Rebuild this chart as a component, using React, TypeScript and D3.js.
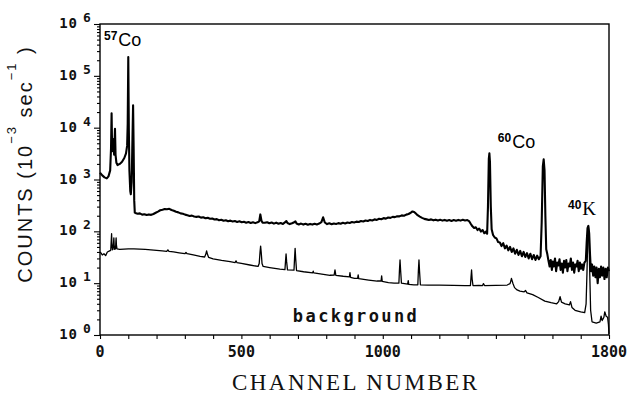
import React, { useEffect, useRef } from "react";
import * as d3 from "d3";

// [channel, counts (10^-3 sec^-1)]
const sourceSpectrum: [number, number][] = [
  [0, 1350], [8, 1200], [16, 1100], [24, 1050], [30, 1150], [36, 1500], [39, 4000], [41, 19000],
  [43, 3500], [46, 6000], [48, 4500], [50, 3000], [53, 9500], [55, 3000], [58, 2100], [62, 1900],
  [70, 2000], [78, 2200], [86, 2600], [92, 3200], [96, 4500], [98, 12000], [100, 230000],
  [102, 9000], [104, 1500], [107, 600], [109, 520], [112, 900], [114, 3500], [117, 27000],
  [119, 4000], [121, 400], [123, 230],
  [125, 225], [133, 218], [141, 222], [149, 210], [157, 214], [165, 206], [173, 212], [181, 208],
  [189, 216], [197, 228], [205, 240], [213, 255], [221, 262], [229, 270], [237, 266], [245, 272],
  [253, 258], [261, 250], [269, 238], [277, 232], [285, 222], [293, 218],
  [301, 210], [309, 204], [317, 198], [325, 201], [333, 193], [341, 190], [349, 193], [357, 184],
  [365, 187], [373, 179], [381, 182], [389, 175], [397, 177], [405, 169], [413, 172], [421, 164],
  [429, 167], [437, 160], [445, 164], [453, 157], [461, 161], [469, 155], [477, 158], [485, 152],
  [493, 156], [501, 150], [509, 153], [517, 147], [525, 151], [533, 145], [541, 150], [549, 144],
  [557, 149], [563, 156], [567, 212], [571, 160], [575, 147], [583, 146], [591, 150], [599, 143],
  [607, 148], [615, 141], [623, 147], [631, 140], [639, 145], [647, 139], [655, 150], [659, 158],
  [663, 145], [671, 138], [679, 143], [687, 150], [691, 156], [695, 142], [703, 136], [711, 141],
  [719, 135], [727, 140], [735, 134], [743, 139], [751, 135], [759, 140], [767, 136], [775, 141],
  [783, 150], [789, 187], [795, 148], [803, 138], [811, 143], [819, 137], [827, 142], [835, 139],
  [843, 144], [851, 140], [859, 146], [867, 142], [875, 148], [883, 145], [891, 151], [899, 148],
  [907, 154], [915, 151], [923, 158], [931, 155], [939, 162], [947, 158], [955, 166], [963, 162],
  [971, 170], [979, 166], [987, 175], [995, 171], [1003, 180], [1011, 176], [1019, 185],
  [1027, 182], [1035, 190], [1043, 188], [1051, 196], [1059, 194], [1067, 203], [1075, 200],
  [1083, 210], [1091, 216], [1099, 228], [1105, 242], [1111, 236], [1117, 220], [1123, 205],
  [1131, 192], [1139, 182], [1147, 174], [1155, 170], [1163, 166], [1171, 170], [1179, 163],
  [1187, 168], [1195, 162], [1203, 167], [1211, 161], [1219, 166], [1227, 160], [1235, 165],
  [1243, 159], [1251, 165], [1259, 160], [1267, 166], [1275, 161], [1283, 167], [1291, 162],
  [1299, 165], [1305, 158], [1311, 140], [1317, 125], [1323, 116], [1329, 120], [1335, 106],
  [1341, 113], [1347, 99], [1353, 106], [1359, 92], [1365, 99], [1369, 90], [1372, 300],
  [1375, 2500], [1377, 3200], [1379, 2200], [1382, 300], [1385, 110], [1390, 85], [1396, 76],
  [1402, 73], [1408, 62], [1414, 61], [1420, 52], [1426, 59], [1432, 47], [1438, 53], [1444, 43],
  [1450, 50], [1456, 40], [1462, 47], [1468, 37], [1474, 44], [1480, 35], [1486, 42], [1492, 33],
  [1498, 40], [1504, 32], [1510, 38], [1516, 30], [1522, 37], [1528, 29], [1534, 35], [1540, 28],
  [1546, 34], [1552, 29], [1558, 33], [1562, 150], [1566, 1800], [1569, 2450], [1572, 1500],
  [1575, 200], [1578, 45], [1582, 36], [1586, 27], [1590, 21], [1594, 28], [1598, 18], [1601, 26],
  [1605, 21], [1609, 30], [1613, 17], [1617, 25], [1621, 22], [1625, 29], [1629, 18], [1633, 24],
  [1637, 16], [1641, 27], [1645, 20], [1649, 28], [1653, 17], [1657, 24], [1661, 21], [1665, 30],
  [1669, 18], [1673, 25], [1677, 16], [1681, 23], [1685, 21], [1689, 27], [1693, 17], [1697, 25],
  [1701, 19], [1705, 23], [1709, 18], [1713, 25], [1718, 27], [1721, 60], [1724, 115], [1727, 127],
  [1730, 90], [1733, 35], [1736, 17], [1740, 23], [1744, 14], [1748, 21], [1752, 13], [1756, 20],
  [1760, 10], [1764, 19], [1768, 13], [1772, 21], [1776, 14], [1780, 20], [1784, 12], [1788, 19],
  [1792, 13], [1796, 20], [1800, 17],
];

const backgroundSpectrum: [number, number][] = [
  [0, 40], [4, 38], [8, 35], [14, 37], [20, 34], [26, 40], [34, 42], [38, 43], [40, 70], [41, 90],
  [42, 60], [44, 44], [46, 45], [48, 60], [49, 75], [50, 55], [52, 45], [55, 46], [56, 60], [57, 75],
  [58, 55], [60, 46], [70, 45], [85, 45.5], [100, 46], [120, 46], [140, 45.5], [160, 45], [180, 44],
  [200, 43], [220, 42], [236, 41], [240, 44], [244, 41], [260, 40], [280, 38.5], [300, 37], [304, 39],
  [308, 37], [330, 35], [354, 33], [370, 32], [374, 36], [377, 42], [380, 36], [384, 31.5],
  [400, 29.5], [430, 27.5], [460, 26], [478, 25], [481, 27], [484, 25], [500, 24], [530, 22.4],
  [559, 21], [563, 24], [566, 40], [568, 52], [570, 40], [573, 24], [577, 21], [600, 20], [636, 18.6],
  [654, 18.2], [656, 26], [658, 36.6], [660, 26], [663, 18], [686, 17.8], [688, 30], [690, 47],
  [692, 30], [695, 17.5], [720, 16.6], [752, 15.8], [754, 17], [756, 15.8], [790, 14.8], [813, 14.2],
  [828, 14.3], [831, 18], [834, 14.2], [860, 13.6], [882, 13.2], [884, 16], [886, 13], [900, 12.4],
  [911, 12.4], [913, 14.4], [915, 12.2], [950, 11.5], [980, 11], [994, 11], [996, 13.8], [998, 10.8],
  [1020, 10.2], [1040, 10], [1057, 10], [1059, 18], [1061, 28], [1063, 18], [1066, 10], [1088, 9.6],
  [1090, 11.2], [1092, 9.5], [1110, 9.3], [1124, 9.3], [1126, 18], [1128, 28], [1130, 17],
  [1133, 9.3], [1160, 9.2], [1200, 9.2], [1250, 9.1], [1290, 9.0], [1310, 9.0], [1312, 13],
  [1314, 18], [1316, 12], [1319, 9.0], [1340, 9.1], [1353, 9.0], [1356, 9.8], [1360, 9.0],
  [1400, 9.1], [1440, 9.2], [1450, 9.8], [1453, 11], [1455, 12.4], [1460, 10], [1466, 8.2],
  [1475, 7.4], [1485, 7], [1500, 6.8], [1505, 7.2], [1510, 6.5], [1530, 6], [1550, 5.3],
  [1573, 4.5], [1595, 4.2], [1615, 4.0], [1622, 4.4], [1627, 5.5], [1632, 4.3], [1645, 4.0],
  [1660, 3.8], [1664, 4.4], [1669, 3.4], [1680, 3.0], [1700, 2.8], [1714, 2.7], [1719, 4],
  [1722, 15], [1725, 80], [1727, 125], [1729, 80], [1732, 15], [1735, 3], [1740, 1.8], [1755, 1.7],
  [1768, 1.8], [1772, 2.3], [1776, 1.9], [1782, 2.2], [1785, 2.8], [1790, 2.3], [1795, 2.2],
  [1798, 1.6], [1800, 1.05],
];

const channelLabels = [0, 500, 1000, 1800];
const decades = [0, 1, 2, 3, 4, 5, 6];

// isotope labels anchored in data coordinates
const isotopeLabels = [
  { mass: "57", name: "Co", channel: 14, counts: 380000, serif: false },
  { mass: "60", name: "Co", channel: 1407, counts: 4050, serif: false },
  { mass: "40", name: "K", channel: 1655, counts: 207, serif: true },
];

const W = 631;
const H = 396;
const margin = { top: 24, right: 22, bottom: 61, left: 100 };

const App = () => {
  const svgRef = useRef<SVGSVGElement>(null);

  useEffect(() => {
    const svg = d3.select(svgRef.current);
    svg.selectAll("*").remove();

    const x = d3.scaleLinear().domain([0, 1800]).range([margin.left, W - margin.right]);
    const y = d3.scaleLog().domain([1, 1e6]).range([H - margin.bottom, margin.top]);

    const mono = "'DejaVu Sans Mono', monospace";

    // ticks (outward, no labels)
    const minor: number[] = [];
    for (let k = 0; k < 6; k++) for (let m = 2; m < 10; m++) minor.push(m * 10 ** k);

    svg.append("g")
      .attr("transform", `translate(${margin.left},0)`)
      .call(d3.axisLeft(y).tickValues(minor).tickSize(3).tickFormat(() => ""))
      .call((g) => g.select(".domain").remove());
    svg.append("g")
      .attr("transform", `translate(${margin.left},0)`)
      .call(d3.axisLeft(y).tickValues(decades.map((d) => 10 ** d)).tickSize(6).tickFormat(() => ""))
      .call((g) => g.select(".domain").remove());
    svg.append("g")
      .attr("transform", `translate(0,${H - margin.bottom})`)
      .call(d3.axisBottom(x).tickValues(d3.range(0, 1801, 100)).tickSize(4).tickFormat(() => ""))
      .call((g) => g.select(".domain").remove());
    svg.selectAll(".tick line").attr("stroke", "#000").attr("stroke-width", 1.1);

    // frame
    svg.append("rect")
      .attr("x", margin.left)
      .attr("y", margin.top)
      .attr("width", W - margin.left - margin.right)
      .attr("height", H - margin.top - margin.bottom)
      .attr("fill", "none")
      .attr("stroke", "#000")
      .attr("stroke-width", 1.4);

    // y tick labels 10^n
    const yl = svg.append("g").attr("font-family", mono).attr("font-weight", "bold").attr("fill", "#111");
    decades.forEach((d) => {
      const yy = y(10 ** d);
      yl.append("text").attr("x", 78).attr("y", yy + 4).attr("text-anchor", "end")
        .attr("font-size", 14).attr("letter-spacing", 1).text("10");
      yl.append("text").attr("x", 83).attr("y", yy - 2).attr("font-size", 13).text(String(d));
    });

    // x tick labels
    svg.append("g")
      .selectAll("text")
      .data(channelLabels)
      .join("text")
      .attr("x", (d) => x(d))
      .attr("y", 357)
      .attr("text-anchor", "middle")
      .attr("font-family", mono)
      .attr("font-weight", "bold")
      .attr("font-size", 15)
      .attr("fill", "#111")
      .text((d) => d);

    // spectra
    const line = d3.line<[number, number]>().x((d) => x(d[0])).y((d) => y(d[1]));
    svg.append("path")
      .datum(backgroundSpectrum)
      .attr("d", line)
      .attr("fill", "none")
      .attr("stroke", "#000")
      .attr("stroke-width", 1.3)
      .attr("stroke-linejoin", "round");
    svg.append("path")
      .datum(sourceSpectrum)
      .attr("d", line)
      .attr("fill", "none")
      .attr("stroke", "#000")
      .attr("stroke-width", 2.1)
      .attr("stroke-linejoin", "round");

    // isotope labels
    isotopeLabels.forEach((lab) => {
      const t = svg.append("text")
        .attr("x", x(lab.channel))
        .attr("y", y(lab.counts))
        .attr("fill", "#000");
      t.append("tspan")
        .attr("font-family", "'Liberation Sans', Arial, sans-serif")
        .attr("font-weight", "bold")
        .attr("font-size", 12)
        .attr("dy", -6)
        .text(lab.mass);
      t.append("tspan")
        .attr("font-family", lab.serif ? "'Liberation Serif', serif" : "'Liberation Sans', Arial, sans-serif")
        .attr("font-size", lab.serif ? 19 : 18)
        .attr("dy", 6)
        .attr("dx", 1)
        .text(lab.name);
    });

    svg.append("text")
      .attr("x", x(682))
      .attr("y", y(1.78))
      .attr("font-family", mono)
      .attr("font-weight", "bold")
      .attr("font-size", 17)
      .attr("textLength", 124)
      .attr("lengthAdjust", "spacing")
      .attr("fill", "#111")
      .text("background");

    // axis titles
    svg.append("text")
      .attr("x", 354.5)
      .attr("y", 390)
      .attr("text-anchor", "middle")
      .attr("font-family", "'Liberation Serif', 'Times New Roman', serif")
      .attr("font-size", 23)
      .attr("textLength", 245)
      .attr("lengthAdjust", "spacing")
      .attr("fill", "#111")
      .text("CHANNEL NUMBER");

    const yt = svg.append("text")
      .attr("transform", "translate(32,164) rotate(-90)")
      .attr("text-anchor", "middle")
      .attr("font-family", "'Liberation Sans', Arial, sans-serif")
      .attr("font-size", 20)
      .attr("letter-spacing", 2)
      .attr("fill", "#111");
    yt.append("tspan").text("COUNTS (10");
    yt.append("tspan").attr("font-size", 13).attr("dy", -16).text("\u22123");
    yt.append("tspan").attr("dy", 16).text(" sec");
    yt.append("tspan").attr("font-size", 13).attr("dy", -16).text("\u22121");
    yt.append("tspan").attr("dy", 16).text(" )");
  }, []);

  return (
    <div>
      <svg
        ref={svgRef}
        width={W}
        height={H}
        style={{ position: "absolute", left: 0, top: 0, background: "#fff" }}
      ></svg>
    </div>
  );
};

export default App;
